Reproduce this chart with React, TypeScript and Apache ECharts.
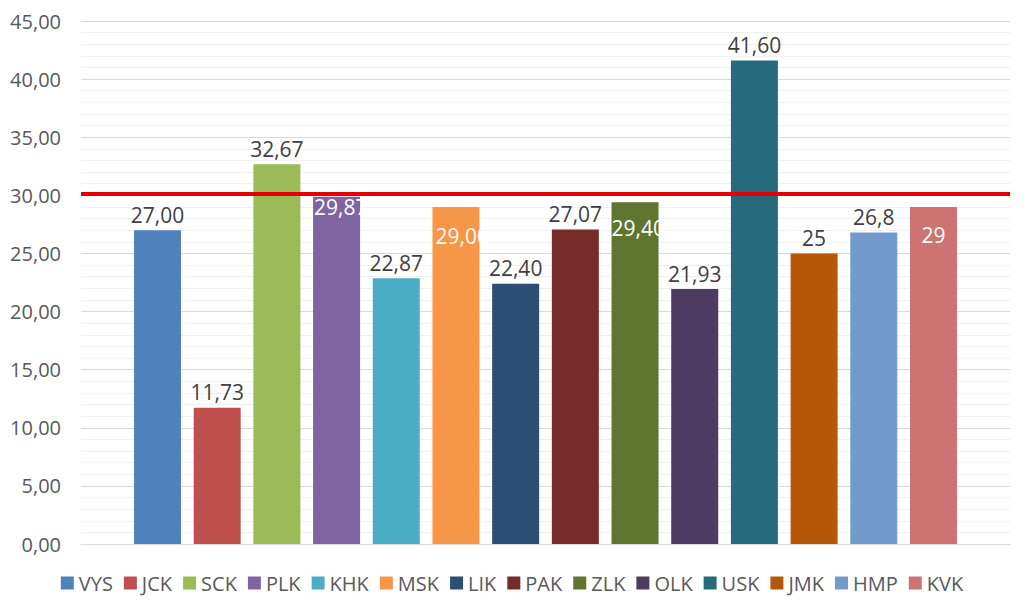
import React, { useEffect, useRef } from "react";
import * as echarts from "echarts";

const regions = ["VYS", "JCK", "SCK", "PLK", "KHK", "MSK", "LIK", "PAK", "ZLK", "OLK", "USK", "JMK", "HMP", "KVK"];
const values = [27.0, 11.73, 32.67, 29.87, 22.87, 29.0, 22.4, 27.07, 29.4, 21.93, 41.6, 25, 26.8, 29];
const valueLabels = ["27,00", "11,73", "32,67", "29,87", "22,87", "29,00", "22,40", "27,07", "29,40", "21,93", "41,60", "25", "26,8", "29"];
const colors = ["#4F81BD", "#C0504D", "#9BBB59", "#8064A2", "#4BACC6", "#F79646", "#2C4D75", "#772C2A", "#5F7530", "#4D3B62", "#276A7C", "#B65708", "#729ACA", "#CD7371"];
// labels drawn inside the bar (white), with their offset from the bar's top-left
const insideLabels: Record<string, { x: number | string; y: number; align: string }> = {
  PLK: { x: 1, y: 0, align: "left" },
  MSK: { x: 3, y: 19, align: "left" },
  ZLK: { x: 0, y: 15, align: "left" },
  KVK: { x: "50%", y: 18, align: "center" },
};
const threshold = 30.1;
const yTicks = { min: 0, max: 45, interval: 5 };

const FONT = "'Open Sans', 'Noto Sans', sans-serif";

export default function App() {
  const ref = useRef<HTMLDivElement>(null);
  useEffect(() => {
    if (!ref.current) return;
    const chart = echarts.init(ref.current, undefined, { renderer: "svg" });
    const series: any[] = regions.map((name, i) => {
      const inside = insideLabels[name];
      const label: any = inside
        ? {
            show: true,
            position: [inside.x, inside.y],
            align: inside.align,
            verticalAlign: "top",
            color: "#FFFFFF",
            fontSize: 21,
            fontFamily: FONT,
            formatter: () => valueLabels[i],
          }
        : {
            show: true,
            position: "top",
            distance: 5,
            color: "#404040",
            fontSize: 21,
            fontFamily: FONT,
            formatter: () => valueLabels[i],
          };
      const s: any = {
        name,
        type: "bar",
        data: [values[i]],
        barWidth: 47,
        barGap: "27%",
        itemStyle: { color: colors[i] },
        label,
      };
      if (i === regions.length - 1) {
        s.markLine = {
          silent: true,
          symbol: "none",
          label: { show: false },
          lineStyle: { color: "#E30000", width: 4, type: "solid" },
          data: [{ yAxis: threshold }],
          z: 10,
        };
      }
      return s;
    });
    chart.setOption({
      animation: false,
      backgroundColor: "#FFFFFF",
      color: colors,
      grid: { left: 81, right: 14, top: 21, bottom: 66, containLabel: false },
      xAxis: {
        type: "category",
        data: [""],
        axisLine: { show: true, lineStyle: { color: "#D9D9D9", width: 1 } },
        axisTick: { show: false },
        axisLabel: { show: false },
      },
      yAxis: {
        type: "value",
        min: yTicks.min,
        max: yTicks.max,
        interval: yTicks.interval,
        axisLine: { show: false },
        axisTick: { show: false },
        axisLabel: {
          color: "#595959",
          fontSize: 20,
          fontFamily: FONT,
          margin: 20,
          formatter: (v: number) => v.toFixed(2).replace(".", ","),
        },
        splitLine: { show: true, lineStyle: { color: "#D9D9D9", width: 1 } },
        minorTick: { show: false, splitNumber: 5 },
        minorSplitLine: { show: true, lineStyle: { color: "#F0F0F0", width: 1 } },
      },
      legend: {
        bottom: 12,
        left: "center",
        icon: "rect",
        itemWidth: 13,
        itemHeight: 13,
        itemGap: 11,
        textStyle: { color: "#595959", fontSize: 20, fontFamily: FONT, padding: [0, 0, 0, 0] },
        data: regions,
      },
      series,
    });
    return () => chart.dispose();
  }, []);
  return <div ref={ref} style={{ position: "fixed", left: 0, top: 0, width: 1024, height: 610 }} />;
}
